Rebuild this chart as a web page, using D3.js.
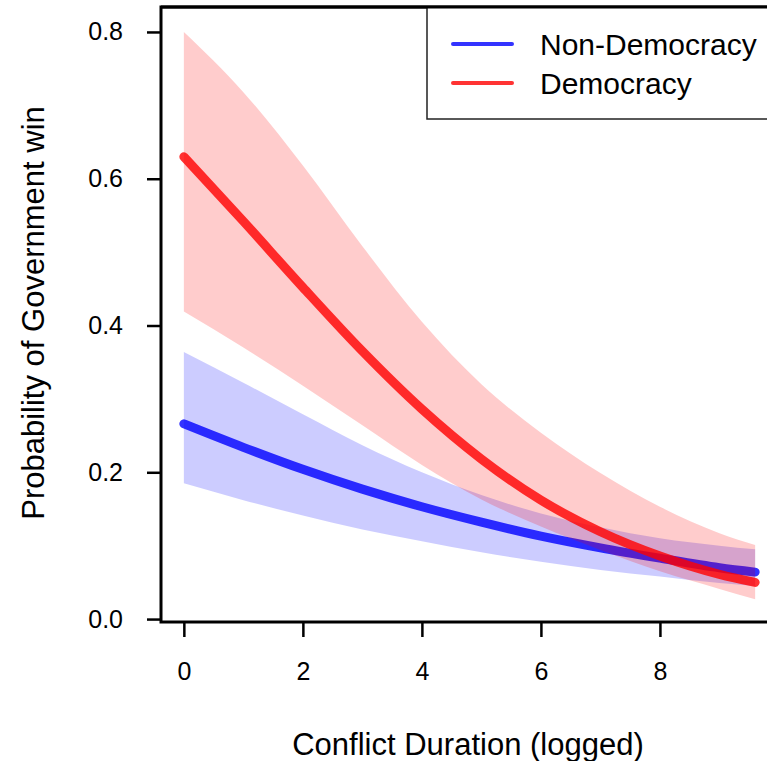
<!DOCTYPE html>
<html>
<head>
<meta charset="utf-8">
<script src="https://cdn.jsdelivr.net/npm/d3@7"></script>
<style>
  html, body { margin: 0; padding: 0; background: #fff; }
  svg { display: block; font-family: "Liberation Sans", Arial, Helvetica, sans-serif; }
</style>
</head>
<body>
<div id="chart"></div>
<script>
// Conflict duration (logged) grid
const durations = [0, 1, 2, 3, 4, 5, 6, 7, 8, 9, 9.6];

// Non-Democracy: predicted probability and 95% band
const nonDemMean  = [0.266, 0.234, 0.204, 0.177, 0.153, 0.132, 0.113, 0.097, 0.083, 0.070, 0.064];
const nonDemLower = [0.185, 0.162, 0.141, 0.122, 0.106, 0.091, 0.078, 0.067, 0.058, 0.049, 0.045];
const nonDemUpper = [0.364, 0.322, 0.279, 0.237, 0.200, 0.169, 0.144, 0.125, 0.110, 0.100, 0.095];

// Democracy: predicted probability and 95% band
const demMean  = [0.630, 0.542, 0.452, 0.365, 0.286, 0.218, 0.162, 0.119, 0.086, 0.061, 0.050];
const demLower = [0.419, 0.370, 0.318, 0.264, 0.210, 0.163, 0.126, 0.094, 0.065, 0.041, 0.027];
const demUpper = [0.800, 0.718, 0.618, 0.508, 0.405, 0.320, 0.254, 0.199, 0.153, 0.117, 0.101];

const xTicks = [0, 2, 4, 6, 8];
const yTicks = [0.0, 0.2, 0.4, 0.6, 0.8];
const legendLabels = ['Non-Democracy', 'Democracy'];

const W = 767, H = 761;
const BLUE = 'rgba(0,0,255,0.8)', RED = 'rgba(255,0,0,0.8)';
const BLUE_BAND = 'rgba(0,0,255,0.2)', RED_BAND = 'rgba(255,0,0,0.2)';

const svg = d3.select('#chart').append('svg')
  .attr('width', W).attr('height', H);

svg.append('rect').attr('width', W).attr('height', H).attr('fill', '#fff');

// R-style limits: data range plus 4% each side
const x = d3.scaleLinear().domain([-0.384, 9.984]).range([161, 778]);
const y = d3.scaleLinear().domain([-0.004, 0.834]).range([622, 7]);

const rows = (lo, mid, hi) => durations.map((d, i) => ({ d, lo: lo[i], mid: mid[i], hi: hi[i] }));
const nonDem = rows(nonDemLower, nonDemMean, nonDemUpper);
const dem = rows(demLower, demMean, demUpper);

const area = d3.area()
  .x(r => x(r.d)).y0(r => y(r.lo)).y1(r => y(r.hi))
  .curve(d3.curveMonotoneX);
const line = d3.line()
  .x(r => x(r.d)).y(r => y(r.mid))
  .curve(d3.curveMonotoneX);

const plot = svg.append('g');

// Draw order: blue band, blue line, red band, red line
plot.append('path').datum(nonDem).attr('d', area).attr('fill', BLUE_BAND);
plot.append('path').datum(nonDem).attr('d', line)
  .attr('fill', 'none').attr('stroke', BLUE).attr('stroke-width', 9).attr('stroke-linecap', 'round');
plot.append('path').datum(dem).attr('d', area).attr('fill', RED_BAND);
plot.append('path').datum(dem).attr('d', line)
  .attr('fill', 'none').attr('stroke', RED).attr('stroke-width', 9).attr('stroke-linecap', 'round');

// Axes
const yAxis = svg.append('g')
  .attr('transform', `translate(${x.range()[0]},0)`)
  .call(d3.axisLeft(y).tickValues(yTicks).tickFormat(d3.format('.1f')).tickSize(14).tickPadding(24));
const xAxis = svg.append('g')
  .attr('transform', `translate(0,${y.range()[0]})`)
  .call(d3.axisBottom(x).tickValues(xTicks).tickFormat(d3.format('d')).tickSize(15).tickPadding(25));

[yAxis, xAxis].forEach(a => {
  a.select('.domain').remove();
  a.selectAll('line').attr('stroke', '#000').attr('stroke-width', 2.5);
  a.selectAll('text').attr('fill', '#000').style('font-size', '25px')
    .style('font-family', '"Liberation Sans", Arial, sans-serif');
});

// Plot box
svg.append('rect')
  .attr('x', x.range()[0]).attr('y', y.range()[1])
  .attr('width', x.range()[1] - x.range()[0]).attr('height', y.range()[0] - y.range()[1])
  .attr('fill', 'none').attr('stroke', '#000').attr('stroke-width', 3);

// Axis titles
svg.append('text')
  .attr('x', 468).attr('y', 755)
  .attr('text-anchor', 'middle').style('font-size', '31px')
  .text('Conflict Duration (logged)');
svg.append('text')
  .attr('transform', 'translate(44,313) rotate(-90)')
  .attr('text-anchor', 'middle').style('font-size', '31px')
  .text('Probability of Government win');

// Legend (top right)
const legend = svg.append('g');
legend.append('rect')
  .attr('x', 427).attr('y', 7).attr('width', 778 - 427).attr('height', 112)
  .attr('fill', '#fff').attr('stroke', '#222').attr('stroke-width', 1.5);
[BLUE, RED].forEach((c, i) => {
  const ly = 44 + i * 39;
  legend.append('line')
    .attr('x1', 453).attr('x2', 512).attr('y1', ly).attr('y2', ly)
    .attr('stroke', c).attr('stroke-width', 4).attr('stroke-linecap', 'round');
  legend.append('text')
    .attr('x', 540).attr('y', ly).attr('dy', '0.35em')
    .style('font-size', '30px').text(legendLabels[i]);
});
// redraw top border of the plot over the legend frame
svg.append('line')
  .attr('x1', x.range()[0]).attr('x2', x.range()[1]).attr('y1', y.range()[1]).attr('y2', y.range()[1])
  .attr('stroke', '#000').attr('stroke-width', 3);
</script>
</body>
</html>
